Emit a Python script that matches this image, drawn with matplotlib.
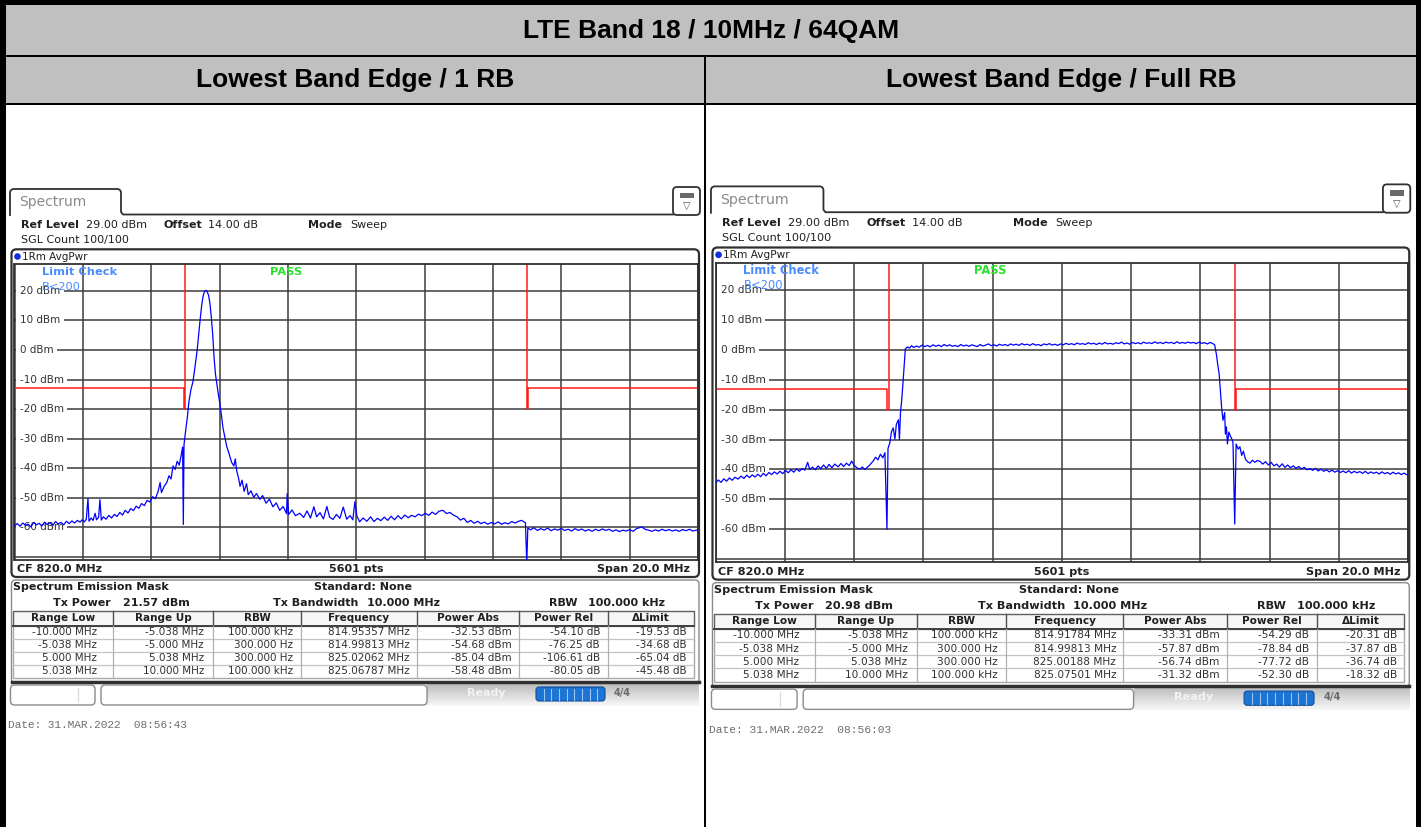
import numpy as np
import matplotlib
matplotlib.use('Agg')
import matplotlib.pyplot as plt
from matplotlib.patches import Rectangle, FancyBboxPatch, Circle

W, H = 1421, 827

title = 'LTE Band 18 / 10MHz / 64QAM'
sub_titles = ['Lowest Band Edge / 1 RB', 'Lowest Band Edge / Full RB']

# trace of the 1 RB measurement (MHz, dBm)
f_1rb = [810.00, 810.08, 810.16, 810.24, 810.32, 810.40, 810.48, 810.56, 810.64, 810.72,
         810.80, 810.88, 810.96, 811.04, 811.12, 811.20, 811.28, 811.36, 811.44, 811.52,
         811.60, 811.68, 811.76, 811.84, 811.92, 811.98, 812.04, 812.10, 812.15, 812.18,
         812.24, 812.30, 812.36, 812.40, 812.46, 812.50, 812.54, 812.60, 812.68, 812.76,
         812.84, 812.92, 813.00, 813.08, 813.16, 813.24, 813.32, 813.40, 813.48, 813.56,
         813.64, 813.72, 813.80, 813.88, 813.96, 814.04, 814.12, 814.20, 814.26, 814.30,
         814.38, 814.46, 814.52, 814.58, 814.64, 814.70, 814.76, 814.82, 814.88, 814.92,
         814.94, 814.96, 815.00, 815.06, 815.10, 815.16, 815.22, 815.28, 815.34, 815.40,
         815.44, 815.48, 815.52, 815.56, 815.60, 815.64, 815.68, 815.72, 815.76, 815.80,
         815.84, 815.88, 815.92, 815.96, 816.01, 816.06, 816.10, 816.16, 816.21, 816.28,
         816.35, 816.42, 816.46, 816.50, 816.56, 816.60, 816.66, 816.72, 816.79, 816.84,
         816.92, 817.00, 817.08, 817.18, 817.26, 817.36, 817.46, 817.56, 817.66, 817.76,
         817.86, 817.96, 817.98, 818.02, 818.12, 818.22, 818.35, 818.46, 818.56, 818.66,
         818.76, 818.84, 818.94, 819.04, 819.14, 819.22, 819.32, 819.42, 819.52, 819.62,
         819.72, 819.82, 819.90, 819.96, 820.02, 820.10, 820.20, 820.31, 820.42, 820.52,
         820.62, 820.72, 820.82, 820.92, 821.02, 821.12, 821.22, 821.32, 821.42, 821.52,
         821.62, 821.72, 821.82, 821.92, 822.02, 822.12, 822.22, 822.32, 822.42, 822.54,
         822.64, 822.74, 822.84, 822.95, 823.05, 823.15, 823.25, 823.35, 823.45, 823.55,
         823.65, 823.75, 823.85, 823.95, 824.05, 824.15, 824.25, 824.35, 824.45, 824.55,
         824.65, 824.75, 824.84, 824.95, 824.99, 825.02, 825.10, 825.20, 825.30, 825.40,
         825.50, 825.60, 825.70, 825.80, 825.90, 826.00, 826.10, 826.20, 826.30, 826.40,
         826.50, 826.60, 826.70, 826.80, 826.90, 827.00, 827.10, 827.20, 827.30, 827.40,
         827.50, 827.60, 827.70, 827.80, 827.90, 828.00, 828.10, 828.20, 828.35, 828.45,
         828.55, 828.65, 828.75, 828.85, 828.95, 829.05, 829.15, 829.25, 829.35, 829.45,
         829.55, 829.65, 829.75, 829.85, 829.95, 830.00]
p_1rb = [-59.4, -58.7, -59.6, -58.5, -59.2, -58.9, -59.8, -58.3, -59.1, -58.6,
         -59.5, -58.2, -59.0, -58.4, -59.3, -58.0, -58.8, -58.3, -59.1, -57.9,
         -58.7, -57.8, -58.5, -57.6, -58.2, -57.4, -58.1, -57.3, -50.2, -57.9,
         -56.8, -57.6, -55.2, -57.4, -56.6, -50.6, -57.5, -56.4, -57.2, -55.9,
         -56.8, -55.6, -56.3, -54.9, -55.8, -54.2, -55.1, -53.6, -54.3, -52.8,
         -53.5, -51.9, -52.6, -50.8, -51.4, -49.6, -50.3, -47.9, -44.8, -48.2,
         -46.1, -44.7, -42.5, -43.6, -39.2, -40.4, -37.6, -38.9, -35.4, -32.8,
         -59.0, -32.0, -28.0, -22.5, -17.8, -13.5, -10.8, -5.8, -0.5, 6.5,
         11.2, 15.4, 18.3, 19.8, 20.2, 19.7, 18.5, 15.6, 11.0, 5.2,
         -2.6, -8.1, -11.4, -14.6, -18.2, -22.5, -26.3, -29.8, -32.6, -35.1,
         -37.9, -39.2, -36.8, -40.7, -43.5, -46.1, -44.0, -47.8, -45.2, -48.9,
         -47.6, -49.8, -48.5, -50.5, -49.2, -51.8, -50.4, -53.0, -51.7, -54.2,
         -52.9, -55.3, -48.5, -55.6, -54.1, -56.0, -55.2, -56.6, -54.4, -56.8,
         -53.0, -56.4, -55.0, -57.1, -52.9, -56.5, -57.3, -55.6, -56.9, -53.1,
         -57.2, -56.0, -57.4, -51.3, -56.2, -58.1, -56.8, -57.9, -56.4, -58.0,
         -56.9, -57.7, -56.5, -57.6, -56.2, -57.4, -56.0, -57.1, -55.8, -56.7,
         -55.9, -56.4, -55.5, -56.0, -55.2, -55.9, -54.8, -55.6, -54.5, -54.2,
         -55.3, -54.9, -55.8, -56.4, -57.5, -56.9, -58.3, -57.6, -58.6, -57.9,
         -58.7, -58.2, -58.9, -58.3, -58.8, -58.1, -58.9, -58.4, -58.8, -58.0,
         -58.5, -57.9, -57.6, -58.4, -72.0, -60.2, -60.8, -60.1, -61.0, -60.4,
         -60.9, -60.2, -61.1, -60.5, -60.9, -60.3, -61.0, -60.6, -61.2, -60.4,
         -61.0, -60.5, -61.2, -60.7, -61.3, -60.6, -61.1, -60.5, -61.0, -60.6,
         -61.3, -60.8, -61.4, -60.9, -61.2, -60.7, -61.3, -60.4, -59.8, -60.6,
         -60.9, -61.3, -60.8, -61.2, -60.6, -61.1, -60.7, -61.2, -60.8, -61.3,
         -60.7, -61.1, -60.6, -61.2, -60.9, -61.0]

# trace of the full RB measurement (MHz, dBm)
f_full = [810.00, 810.08, 810.16, 810.24, 810.32, 810.40, 810.48, 810.56, 810.65, 810.74,
          810.82, 810.90, 810.98, 811.06, 811.14, 811.22, 811.30, 811.38, 811.46, 811.54,
          811.62, 811.70, 811.78, 811.86, 811.94, 812.02, 812.10, 812.18, 812.26, 812.34,
          812.42, 812.50, 812.58, 812.66, 812.72, 812.80, 812.88, 812.96, 813.04, 813.12,
          813.20, 813.28, 813.36, 813.44, 813.54, 813.62, 813.70, 813.78, 813.86, 813.93,
          814.00, 814.08, 814.16, 814.24, 814.31, 814.38, 814.46, 814.55, 814.62, 814.69,
          814.76, 814.83, 814.89, 814.95, 814.98, 815.03, 815.08, 815.13, 815.18, 815.22,
          815.28, 815.31, 815.34, 815.37, 815.41, 815.45, 815.48, 815.54, 815.60, 815.66,
          815.72, 815.80, 815.88, 815.96, 816.04, 816.12, 816.20, 816.28, 816.36, 816.44,
          816.52, 816.60, 816.68, 816.76, 816.84, 816.92, 817.00, 817.08, 817.16, 817.24,
          817.32, 817.40, 817.48, 817.56, 817.64, 817.72, 817.80, 817.88, 817.96, 818.04,
          818.12, 818.20, 818.28, 818.36, 818.44, 818.52, 818.60, 818.68, 818.76, 818.84,
          818.92, 819.00, 819.08, 819.16, 819.24, 819.32, 819.40, 819.48, 819.56, 819.64,
          819.72, 819.80, 819.88, 819.96, 820.04, 820.12, 820.20, 820.28, 820.36, 820.44,
          820.52, 820.60, 820.68, 820.76, 820.84, 820.92, 821.00, 821.08, 821.16, 821.24,
          821.32, 821.40, 821.48, 821.56, 821.64, 821.72, 821.80, 821.88, 821.96, 822.04,
          822.12, 822.20, 822.28, 822.36, 822.44, 822.52, 822.60, 822.68, 822.76, 822.84,
          822.92, 823.00, 823.08, 823.16, 823.24, 823.32, 823.40, 823.48, 823.56, 823.64,
          823.72, 823.80, 823.88, 823.96, 824.04, 824.12, 824.20, 824.28, 824.36, 824.41,
          824.46, 824.51, 824.54, 824.58, 824.61, 824.65, 824.70, 824.72, 824.75, 824.78,
          824.82, 824.87, 824.90, 824.94, 824.99, 825.03, 825.09, 825.14, 825.19, 825.24,
          825.30, 825.36, 825.43, 825.50, 825.57, 825.64, 825.72, 825.80, 825.88, 825.96,
          826.04, 826.12, 826.20, 826.28, 826.36, 826.44, 826.52, 826.60, 826.68, 826.76,
          826.84, 826.92, 827.00, 827.08, 827.16, 827.24, 827.32, 827.40, 827.48, 827.56,
          827.64, 827.72, 827.80, 827.88, 827.96, 828.04, 828.12, 828.20, 828.28, 828.36,
          828.44, 828.52, 828.60, 828.68, 828.76, 828.84, 828.92, 829.00, 829.08, 829.16,
          829.24, 829.32, 829.40, 829.48, 829.56, 829.64, 829.72, 829.80, 829.88, 829.96,
          830.00]
p_full = [-44.6, -43.5, -44.3, -43.1, -43.9, -42.8, -43.6, -42.6, -43.2, -42.2,
          -43.0, -41.9, -42.7, -41.8, -42.5, -41.6, -42.4, -41.3, -42.1, -41.0,
          -41.7, -40.8, -41.5, -40.6, -41.4, -40.3, -41.1, -40.1, -40.9, -39.8,
          -40.6, -39.7, -40.2, -37.6, -40.0, -39.2, -40.1, -38.8, -39.7, -38.5,
          -39.6, -38.3, -39.4, -38.2, -39.1, -38.0, -39.0, -37.9, -38.7, -37.2,
          -38.6, -39.4, -39.9, -39.2, -40.0, -39.3, -38.4, -37.2, -35.9, -36.8,
          -34.9, -36.1, -34.4, -60.0, -33.0, -31.2, -27.4, -26.1, -29.8, -25.0,
          -23.4, -30.0, -21.0, -17.6, -11.5, -4.5, 0.2, 0.9, 0.5, 1.3,
          0.7, 1.2, 0.8, 1.5, 1.0, 1.4, 0.9, 1.6, 1.1, 1.5,
          1.0, 1.7, 1.2, 1.6, 1.1, 1.4, 1.0, 1.7, 1.2, 1.5,
          1.1, 1.6, 1.3, 1.0, 1.7, 1.2, 1.5, 1.9, 1.3, 1.6,
          1.2, 1.8, 1.4, 1.7, 1.3, 1.9, 1.5, 1.8, 1.4, 2.0,
          1.6, 1.8, 1.4, 2.0, 1.5, 1.7, 1.3, 1.9, 1.6, 2.0,
          1.5, 1.8, 1.4, 1.9, 1.6, 2.1, 1.7, 2.0, 1.6, 2.2,
          1.8, 2.0, 1.7, 2.3, 1.9, 2.1, 1.7, 2.2, 1.8, 2.4,
          1.9, 2.1, 1.8, 2.3, 2.0, 2.5, 1.9, 2.2, 1.8, 2.4,
          2.0, 2.3, 1.9, 2.5, 2.1, 2.3, 2.0, 2.6, 2.1, 2.4,
          2.0, 2.5, 2.2, 2.4, 2.0, 2.6, 2.1, 2.4, 2.1, 2.5,
          2.2, 2.4, 2.0, 2.5, 2.1, 2.3, 1.9, 2.4, 2.0, 1.6,
          -1.5, -5.8, -8.0, -14.5, -19.1, -23.6, -21.0, -28.2, -25.8, -31.5,
          -27.5, -29.0, -29.6, -31.0, -58.2, -31.5, -33.2, -32.4, -35.3, -33.9,
          -36.6, -37.4, -37.9, -36.9, -37.6, -37.0, -37.3, -38.2, -37.4, -38.5,
          -37.6, -38.8, -38.2, -39.2, -38.1, -39.3, -38.5, -39.4, -38.8, -39.6,
          -39.0, -39.8, -39.3, -40.1, -39.7, -40.3, -39.6, -40.5, -39.9, -40.6,
          -40.1, -40.8, -40.2, -40.9, -40.4, -41.0, -40.5, -41.1, -40.4, -41.2,
          -40.6, -41.1, -40.7, -41.3, -40.6, -41.4, -40.8, -41.3, -40.9, -41.5,
          -40.8, -41.4, -41.0, -41.6, -40.9, -41.5, -41.1, -41.7, -41.2, -41.8,
          -41.5]

# emission mask limit, lower and upper part (MHz, dBm)
lim_lo_f = [810.0, 814.962, 814.962, 815.0, 815.0]
lim_lo_p = [-13, -13, -20, -20, 40]
lim_hi_f = [825.0, 825.0, 825.038, 825.038, 830.0]
lim_hi_p = [40, -20, -20, -13, -13]

freq_ticks = [810, 812, 814, 816, 818, 820, 822, 824, 826, 828, 830]
level_ticks = [-70, -60, -50, -40, -30, -20, -10, 0, 10, 20]
level_labels = [20, 10, 0, -10, -20, -30, -40, -50, -60]

col_heads = ['Range Low', 'Range Up', 'RBW', 'Frequency', 'Power Abs', 'Power Rel', 'ΔLimit']
range_low = ['-10.000 MHz', '-5.038 MHz', '5.000 MHz', '5.038 MHz']
range_up = ['-5.038 MHz', '-5.000 MHz', '5.038 MHz', '10.000 MHz']
rbw_col = ['100.000 kHz', '300.000 Hz', '300.000 Hz', '100.000 kHz']

freq_1rb = ['814.95357 MHz', '814.99813 MHz', '825.02062 MHz', '825.06787 MHz']
pabs_1rb = ['-32.53 dBm', '-54.68 dBm', '-85.04 dBm', '-58.48 dBm']
prel_1rb = ['-54.10 dB', '-76.25 dB', '-106.61 dB', '-80.05 dB']
dlim_1rb = ['-19.53 dB', '-34.68 dB', '-65.04 dB', '-45.48 dB']

freq_full = ['814.91784 MHz', '814.99813 MHz', '825.00188 MHz', '825.07501 MHz']
pabs_full = ['-33.31 dBm', '-57.87 dBm', '-56.74 dBm', '-31.32 dBm']
prel_full = ['-54.29 dB', '-78.84 dB', '-77.72 dB', '-52.30 dB']
dlim_full = ['-20.31 dB', '-37.87 dB', '-36.74 dB', '-18.32 dB']

txpow = ['21.57 dBm', '20.98 dBm']
dates = ['Date: 31.MAR.2022  08:56:43', 'Date: 31.MAR.2022  08:56:03']

plt.rcParams['font.family'] = ['DejaVu Sans']

fig = plt.figure(figsize=(W / 100, H / 100), dpi=100)
bg = fig.add_axes([0, 0, 1, 1], zorder=0)
top = fig.add_axes([0, 0, 1, 1], zorder=2)
for a in (bg, top):
    a.set_xlim(0, W)
    a.set_ylim(H, 0)
    a.axis('off')

DARK = '#303030'


def draw_screen(ox, oy, s, tr_f, tr_p, tx_power, cols, date):
    X = lambda x: ox + (x - 13) * s
    Y = lambda y: oy + (y - 264.3) * s

    def box(x0, y0, x1, y1, r=0, **kw):
        style = 'round,pad=0,rounding_size=%g' % (r * s) if r else 'square,pad=0'
        bg.add_patch(FancyBboxPatch((X(x0), Y(y0)), (x1 - x0) * s, (y1 - y0) * s,
                                    boxstyle=style, **kw))

    def line(xs, ys, **kw):
        bg.plot([X(v) for v in xs], [Y(v) for v in ys], **kw)

    def txt(x, y, t, size=8, where=bg, **kw):
        where.text(X(x), Y(y), t, fontsize=size * s, va='center', **kw)

    # tab + header
    line([10, 10, 11, 13, 118, 120, 121, 121, 123, 673],
         [215, 192, 190, 189, 189, 190, 192, 212, 214.5, 214.5], color=DARK, lw=1.3)
    txt(19, 202, 'Spectrum', size=10, color='#8a8a8a')
    box(673, 187, 700, 215, r=4, fc='white', ec=DARK, lw=1.3)
    box(680, 193, 694, 198, fc='#6a6a6a', ec='none')
    txt(687, 206, '▽', size=7, ha='center', color='#505050')

    txt(21, 225.5, 'Ref Level', weight='bold', color='#202020')
    txt(86, 225.5, '29.00 dBm', color='#202020')
    txt(163, 225.5, 'Offset', weight='bold', color='#202020')
    txt(208, 225.5, '14.00 dB', color='#202020')
    txt(308, 225.5, 'Mode', weight='bold', color='#202020')
    txt(350, 225.5, 'Sweep', color='#202020')
    txt(21, 240, 'SGL Count 100/100', color='#202020')

    # trace window
    box(11.5, 249.3, 699, 577, r=5, fc='white', ec=DARK, lw=1.6)
    bg.add_patch(Circle((X(17.5), Y(256.5)), 3.3 * s, fc='#1030e0', ec='none'))
    txt(22, 256.5, '1Rm AvgPwr', size=7.5, color='#202020')
    txt(17, 569, 'CF 820.0 MHz', weight='bold', color='#202020')
    txt(356, 569, '5601 pts', weight='bold', ha='center', color='#202020')
    txt(690, 569, 'Span 20.0 MHz', weight='bold', ha='right', color='#202020')

    x0, x1, y0, y1 = X(14.5), X(698), Y(264.3), Y(560)
    ax = fig.add_axes([x0 / W, 1 - y1 / H, (x1 - x0) / W, (y1 - y0) / H], zorder=1)
    ax.set_facecolor('none')
    ax.set_xlim(810, 830)
    ax.set_ylim(-71, 29)
    ax.set_xticks(freq_ticks)
    ax.set_yticks(level_ticks)
    ax.set_axisbelow(True)
    ax.grid(True, color='#3c3c3c', lw=1.1)
    ax.tick_params(length=0, labelbottom=False, labelleft=False)
    for sp in ax.spines.values():
        sp.set_color(DARK)
        sp.set_linewidth(1.3)
    for v in level_labels:
        ax.text(0.0075, v, '%d dBm' % v, transform=ax.get_yaxis_transform(),
                fontsize=7.5 * s, va='center', ha='left', color='#333333',
                bbox=dict(fc='white', ec='none', pad=2.6), zorder=2)
    ax.plot(lim_lo_f, lim_lo_p, color='#ff1a1a', lw=1.1, zorder=2.5)
    ax.plot(lim_hi_f, lim_hi_p, color='#ff1a1a', lw=1.1, zorder=2.5)
    ax.plot(tr_f, tr_p, color='#0000ff', lw=0.9, zorder=3)

    txt(42, 272, 'Limit Check', size=8.2, where=top, weight='bold', color='#4a8cff')
    txt(42, 287, 'B<200', size=8.2, where=top, color='#4a8cff')
    txt(270, 272, 'PASS', size=8.2, where=top, weight='bold', color='#2ee02e')

    # emission mask result table
    box(11.5, 580, 699, 683, r=4, fc='white', ec='#8a8a8a', lw=1)
    line([11.5, 699], [682, 682], color=DARK, lw=2.5)
    txt(13, 587.5, 'Spectrum Emission Mask', weight='bold', color='#202020')
    txt(363, 587.5, 'Standard: None', weight='bold', ha='center', color='#202020')
    txt(111, 603, 'Tx Power', weight='bold', ha='right', color='#202020')
    txt(123, 603, tx_power, weight='bold', color='#202020')
    txt(273, 603, 'Tx Bandwidth', weight='bold', color='#202020')
    txt(367, 603, '10.000 MHz', weight='bold', color='#202020')
    txt(549, 603, 'RBW', weight='bold', color='#202020')
    txt(588, 603, '100.000 kHz', weight='bold', color='#202020')

    col_x = [13, 113, 213, 301, 417, 519, 608, 694]
    right_x = [97, 204, 293, 410, 512, 600, 687]
    rows_y = [632, 645, 658, 671]
    box(13, 611, 694, 625.5, fc='#f6f6f6', ec='#606060', lw=1)
    box(13, 625.5, 694, 678, fc='white', ec='#a8a8a8', lw=1)
    line([13, 694], [625.5, 625.5], color='#404040', lw=1.4)
    for yy in (638.5, 651.5, 664.5):
        line([13, 694], [yy, yy], color='#c4c4c4', lw=0.9)
    for cx in col_x[1:-1]:
        line([cx, cx], [611, 625.5], color='#505050', lw=1)
        line([cx, cx], [625.5, 678], color='#b0b0b0', lw=0.9)
    for i, head in enumerate(col_heads):
        txt((col_x[i] + col_x[i + 1]) / 2, 618.3, head, size=7.5, weight='bold',
            ha='center', color='#202020')
        for j, val in enumerate(cols[i]):
            txt(right_x[i], rows_y[j], val, size=7.5, ha='right', color='#303030')

    # status bar
    grad = np.linspace(0.74, 0.97, 24).reshape(-1, 1)
    bg.imshow(grad, extent=(X(427), X(699), Y(706), Y(684)), cmap='gray',
              vmin=0, vmax=1, aspect='auto', origin='upper', zorder=1)
    box(10.5, 685, 95, 705, r=4, fc='white', ec='#8a8a8a', lw=1, zorder=2)
    line([78, 78], [688, 702], color='#dddddd', lw=1, zorder=3)
    box(101, 685, 427, 705, r=4, fc='white', ec='#8a8a8a', lw=1, zorder=2)
    txt(467, 693, 'Ready', size=8, weight='bold', color='#f2f2f2', zorder=3)
    box(536, 687, 605, 701, r=3, fc='#1c74d4', ec='#0d4f9e', lw=0.8, zorder=3)
    for k in range(1, 9):
        xx = 536 + k * 69 / 9
        line([xx, xx], [688.5, 699.5], color='#9cc4f0', lw=0.8, zorder=4)
    txt(614, 693, '4/4', size=7, weight='bold', color='#6a6a6a', zorder=3)

    txt(8, 725.5, date, size=8, family='Liberation Mono', color='#6e6e6e')


# outer table
bg.add_patch(Rectangle((0, 0), W, 104, fc='#c0c0c0', ec='none'))
bg.add_patch(Rectangle((0, 104), W, H - 104, fc='white', ec='none'))
for r in [(0, 0, W, 4.5), (0, 54.5, W, 2.5), (0, 102.5, W, 2.5),
          (0, 0, 5.5, H), (1415.5, 0, 6, H), (703.8, 55, 2.4, H)]:
    bg.add_patch(Rectangle((r[0], r[1]), r[2], r[3], fc='black', ec='none', zorder=5))

bg.text(711, 31, title, fontsize=19, weight='bold', family='Liberation Sans',
        ha='center', va='center', color='black')
bg.text(355, 80.5, sub_titles[0], fontsize=19, weight='bold', family='Liberation Sans',
        ha='center', va='center', color='black')
bg.text(1061, 80.5, sub_titles[1], fontsize=19, weight='bold', family='Liberation Sans',
        ha='center', va='center', color='black')

draw_screen(13, 264.3, 1.0,
            f_1rb, p_1rb, txpow[0],
            [range_low, range_up, rbw_col, freq_1rb, pabs_1rb, prel_1rb, dlim_1rb], dates[0])
draw_screen(714, 262.7, 1.0135,
            f_full, p_full, txpow[1],
            [range_low, range_up, rbw_col, freq_full, pabs_full, prel_full, dlim_full], dates[1])

bg.set_xlim(0, W)
bg.set_ylim(H, 0)

fig.savefig('out.png', dpi=100)
plt.close(fig)
